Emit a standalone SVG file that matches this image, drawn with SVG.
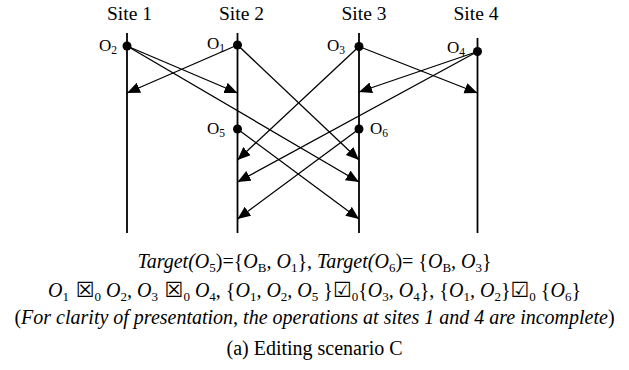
<svg xmlns="http://www.w3.org/2000/svg" width="629" height="370" viewBox="0 0 629 370">
<style>
.site{stroke:#000;stroke-width:1.8;fill:none}
.msg{stroke:#000;stroke-width:1.3;fill:none;marker-end:url(#ah)}
.dot{fill:#000}
.lbl{font-family:"Liberation Serif","Times New Roman",serif;font-size:19.5px;fill:#000}
.op{font-family:"Liberation Serif","Times New Roman",serif;font-size:17px;fill:#000}
.opsub{font-size:11.5px}
.t{font-family:"Liberation Serif","Times New Roman",serif;font-size:20px;fill:#000}
.it{font-style:italic}
.up{font-style:normal}
.sub{font-size:13px;font-style:normal}
.box{font-family:"DejaVu Sans",sans-serif;font-size:21px;font-style:normal}
</style>
<defs>
<marker id="ah" markerUnits="userSpaceOnUse" markerWidth="14" markerHeight="12" refX="13" refY="5.5" orient="auto">
<path d="M0,0 L13,5.5 L0,11 z" fill="#000"/>
</marker>
</defs>
<g id="site1"><text class="lbl" x="129.5" y="20" text-anchor="middle">Site 1</text><line class="site" x1="127" y1="33" x2="127" y2="233"/></g>
<g id="site2"><text class="lbl" x="241.5" y="20" text-anchor="middle">Site 2</text><line class="site" x1="237.5" y1="33" x2="237.5" y2="233"/></g>
<g id="site3"><text class="lbl" x="364" y="20" text-anchor="middle">Site 3</text><line class="site" x1="359" y1="33" x2="359" y2="233"/></g>
<g id="site4"><text class="lbl" x="476" y="20" text-anchor="middle">Site 4</text><line class="site" x1="477.5" y1="38" x2="477.5" y2="233"/></g>
<g id="connectors">
<line class="msg" x1="127" y1="46" x2="237.5" y2="93"/>
<line class="msg" x1="127" y1="46" x2="359" y2="182"/>
<line class="msg" x1="237.5" y1="45" x2="127" y2="93"/>
<line class="msg" x1="237.5" y1="45" x2="359" y2="160"/>
<line class="msg" x1="359" y1="46.5" x2="237.5" y2="160"/>
<line class="msg" x1="359" y1="46.5" x2="477.5" y2="93"/>
<line class="msg" x1="477.5" y1="51.5" x2="359" y2="92"/>
<line class="msg" x1="477.5" y1="51.5" x2="237.5" y2="182"/>
<line class="msg" x1="237.5" y1="129" x2="359" y2="219"/>
<line class="msg" x1="359" y1="129" x2="237.5" y2="219"/>
</g>
<g id="O2"><circle class="dot" cx="127" cy="46" r="4.5"/><text class="op" x="99" y="51">O<tspan class="opsub" dy="3">2</tspan></text></g>
<g id="O1"><circle class="dot" cx="237.5" cy="45" r="4.5"/><text class="op" x="207" y="49">O<tspan class="opsub" dy="3">1</tspan></text></g>
<g id="O3"><circle class="dot" cx="359" cy="46.5" r="4.5"/><text class="op" x="327" y="51">O<tspan class="opsub" dy="3">3</tspan></text></g>
<g id="O4"><circle class="dot" cx="477.5" cy="51.5" r="4.5"/><text class="op" x="447" y="53">O<tspan class="opsub" dy="3">4</tspan></text></g>
<g id="O5"><circle class="dot" cx="237.5" cy="129" r="4.5"/><text class="op" x="207" y="134">O<tspan class="opsub" dy="3">5</tspan></text></g>
<g id="O6"><circle class="dot" cx="359" cy="129" r="4.5"/><text class="op" x="370" y="134">O<tspan class="opsub" dy="3">6</tspan></text></g>
<g id="caption">
<text class="t it" x="314.5" y="268" text-anchor="middle">Target(O<tspan class="sub" dy="4">5</tspan><tspan class="up" dy="-4">)={</tspan>O<tspan class="sub" dy="4">B</tspan><tspan dy="-4">, O</tspan><tspan class="sub" dy="4">1</tspan><tspan class="up" dy="-4">}, </tspan>Target(O<tspan class="sub" dy="4">6</tspan><tspan class="up" dy="-4">)= {</tspan>O<tspan class="sub" dy="4">B</tspan><tspan dy="-4">, O</tspan><tspan class="sub" dy="4">3</tspan><tspan class="up" dy="-4">}</tspan></text>
<text class="t it" x="314.5" y="297" text-anchor="middle">O<tspan class="sub" dy="4">1</tspan><tspan class="box" dy="-4"> ☒</tspan><tspan class="sub" dy="4">0</tspan><tspan dy="-4"> O</tspan><tspan class="sub" dy="4">2</tspan><tspan dy="-4">, O</tspan><tspan class="sub" dy="4">3</tspan><tspan class="box" dy="-4"> ☒</tspan><tspan class="sub" dy="4">0</tspan><tspan dy="-4"> O</tspan><tspan class="sub" dy="4">4</tspan><tspan class="up" dy="-4">, {</tspan>O<tspan class="sub" dy="4">1</tspan><tspan dy="-4">, O</tspan><tspan class="sub" dy="4">2</tspan><tspan dy="-4">, O</tspan><tspan class="sub" dy="4">5</tspan><tspan class="up" dy="-4"> }</tspan><tspan class="box">☑</tspan><tspan class="sub" dy="4">0</tspan><tspan class="up" dy="-4">{</tspan>O<tspan class="sub" dy="4">3</tspan><tspan dy="-4">, O</tspan><tspan class="sub" dy="4">4</tspan><tspan class="up" dy="-4">}, {</tspan>O<tspan class="sub" dy="4">1</tspan><tspan dy="-4">, O</tspan><tspan class="sub" dy="4">2</tspan><tspan class="up" dy="-4">}</tspan><tspan class="box">☑</tspan><tspan class="sub" dy="4">0</tspan><tspan class="up" dy="-4"> {</tspan>O<tspan class="sub" dy="4">6</tspan><tspan class="up" dy="-4">}</tspan></text>
<text class="t it" x="314.5" y="324" text-anchor="middle"><tspan class="up">(</tspan>For clarity of presentation, the operations at sites 1 and 4 are incomplete<tspan class="up">)</tspan></text>
<text class="t" x="314.5" y="355" text-anchor="middle">(a) Editing scenario C</text>
</g>
</svg>
